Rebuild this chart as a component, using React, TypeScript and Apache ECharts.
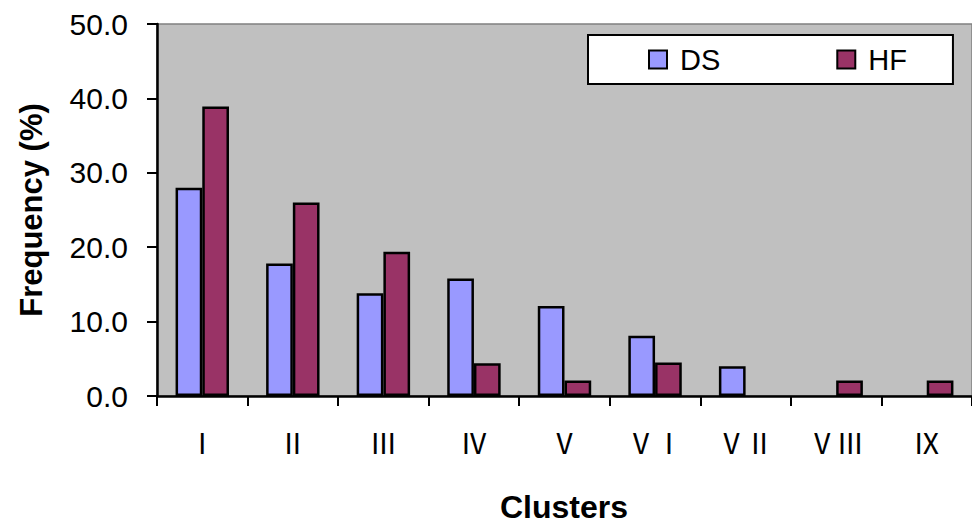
import React, { useEffect, useRef } from "react";
import * as echarts from "echarts";

const categories = ["Ⅰ", "Ⅱ", "Ⅲ", "Ⅳ", "Ⅴ", "ⅤⅠ", "ⅤⅡ", "ⅤⅢ", "Ⅸ"];
const dsValues: (number | null)[] = [28.0, 17.8, 13.8, 15.8, 12.1, 8.1, 4.0, null, null];
const hfValues: (number | null)[] = [38.9, 26.0, 19.4, 4.4, 2.1, 4.5, null, 2.1, 2.1];
const yTicks = { min: 0, max: 50, interval: 10 };

export default function App() {
  const ref = useRef<HTMLDivElement>(null);
  useEffect(() => {
    if (!ref.current) return;
    const chart = echarts.init(ref.current, null, { renderer: "svg" });
    chart.setOption({
      animation: false,
      backgroundColor: "#ffffff",
      textStyle: { fontFamily: "Liberation Sans, Arial, sans-serif" },
      grid: {
        left: 157,
        top: 24,
        bottom: 131,
        right: -4,
        show: true,
        backgroundColor: "#C0C0C0",
        borderColor: "#808080",
        borderWidth: 1.5,
      },
      legend: {
        left: 588,
        top: 35,
        padding: [10, 46, 10, 60],
        backgroundColor: "#ffffff",
        borderColor: "#000000",
        borderWidth: 2,
        itemWidth: 18,
        itemHeight: 18,
        itemGap: 116,
        icon: "rect",
        itemStyle: { borderColor: "#000", borderWidth: 2 },
        textStyle: {
          fontSize: 29,
          color: "#000",
          lineHeight: 28,
          padding: [0, 0, 0, 8],
          fontFamily: "Liberation Sans, Arial, sans-serif",
        },
        data: ["DS", "HF"],
      },
      xAxis: {
        type: "category",
        data: categories,
        axisLine: { lineStyle: { color: "#000", width: 2.5 } },
        axisTick: { show: true, length: 10, lineStyle: { color: "#000", width: 2 } },
        axisLabel: {
          color: "#000",
          fontSize: 28,
          margin: 32,
          fontFamily: "Noto Sans CJK JP, sans-serif",
        },
      },
      yAxis: {
        type: "value",
        min: yTicks.min,
        max: yTicks.max,
        interval: yTicks.interval,
        splitLine: { show: false },
        axisLine: { show: true, lineStyle: { color: "#000", width: 2.5 } },
        axisTick: { show: true, length: 10, lineStyle: { color: "#000", width: 2 } },
        axisLabel: {
          color: "#000",
          fontSize: 30,
          margin: 29,
          formatter: (v: number) => v.toFixed(1),
        },
      },
      graphic: [
        {
          type: "text",
          x: 31,
          y: 210,
          rotation: Math.PI / 2,
          style: {
            text: "Frequency (%)",
            fontSize: 31,
            fontWeight: "bold",
            fill: "#000",
            align: "center",
            verticalAlign: "middle",
            fontFamily: "Liberation Sans, Arial, sans-serif",
          },
        },
        {
          type: "text",
          x: 564,
          y: 507,
          style: {
            text: "Clusters",
            fontSize: 32,
            fontWeight: "bold",
            fill: "#000",
            align: "center",
            verticalAlign: "middle",
            fontFamily: "Liberation Sans, Arial, sans-serif",
          },
        },
      ],
      series: [
        {
          name: "DS",
          type: "bar",
          data: dsValues,
          barGap: "0%",
          barCategoryGap: "41%",
          itemStyle: { color: "#9999FF", borderColor: "#000", borderWidth: 2.5 },
        },
        {
          name: "HF",
          type: "bar",
          data: hfValues,
          barGap: "0%",
          barCategoryGap: "41%",
          itemStyle: { color: "#993366", borderColor: "#000", borderWidth: 2.5 },
        },
      ],
    });
    return () => chart.dispose();
  }, []);
  return (
    <div
      ref={ref}
      style={{ position: "absolute", left: 0, top: 0, width: 972, height: 527 }}
    />
  );
}
